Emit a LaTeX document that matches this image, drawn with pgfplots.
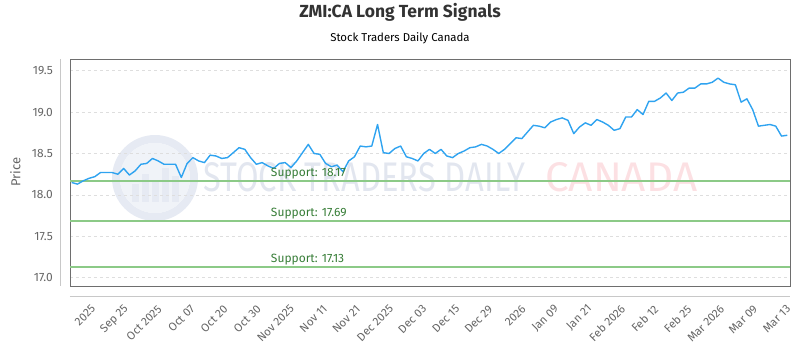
\documentclass[border=0pt]{standalone}
\usepackage{fontspec}
\setmainfont{Fira Sans}
\usepackage{graphicx}
\usepackage{pgfplots}
\pgfplotsset{compat=1.18}
\usepackage{pgfplotstable}

\definecolor{linec}{RGB}{47,163,240}
\definecolor{supc}{RGB}{140,202,135}
\definecolor{suptext}{RGB}{55,125,55}
\definecolor{gridc}{RGB}{222,222,222}
\definecolor{framec}{RGB}{110,110,110}
\definecolor{axisc}{RGB}{200,200,200}
\definecolor{tickc}{RGB}{102,102,102}
\definecolor{titlec}{RGB}{51,51,51}
\definecolor{wmblue}{RGB}{226,230,239}
\definecolor{wmring}{RGB}{230,234,243}
\definecolor{wmpink}{RGB}{252,224,227}

\pgfplotstableread{
i price
0 18.15
1 18.13
2 18.17
3 18.20
4 18.22
5 18.27
6 18.27
7 18.27
8 18.25
9 18.32
10 18.24
11 18.29
12 18.37
13 18.38
14 18.44
15 18.41
16 18.37
17 18.37
18 18.37
19 18.21
20 18.38
21 18.45
22 18.41
23 18.39
24 18.48
25 18.47
26 18.44
27 18.45
28 18.51
29 18.57
30 18.55
31 18.45
32 18.37
33 18.39
34 18.35
35 18.32
36 18.38
37 18.39
38 18.33
39 18.41
40 18.51
41 18.61
42 18.50
43 18.49
44 18.38
45 18.34
46 18.36
47 18.28
48 18.41
49 18.46
50 18.59
51 18.58
52 18.59
53 18.85
54 18.51
55 18.50
56 18.56
57 18.59
58 18.46
59 18.44
60 18.41
61 18.50
62 18.55
63 18.50
64 18.55
65 18.47
66 18.45
67 18.50
68 18.53
69 18.57
70 18.58
71 18.61
72 18.59
73 18.55
74 18.50
75 18.55
76 18.62
77 18.69
78 18.68
79 18.76
80 18.84
81 18.83
82 18.81
83 18.88
84 18.91
85 18.93
86 18.90
87 18.74
88 18.82
89 18.87
90 18.84
91 18.91
92 18.88
93 18.84
94 18.78
95 18.80
96 18.94
97 18.94
98 19.03
99 18.97
100 19.13
101 19.13
102 19.17
103 19.23
104 19.14
105 19.23
106 19.24
107 19.29
108 19.29
109 19.34
110 19.34
111 19.36
112 19.41
113 19.36
114 19.34
115 19.33
116 19.12
117 19.16
118 19.03
119 18.83
120 18.84
121 18.85
122 18.83
123 18.71
124 18.72
}\pricedata

\begin{document}
\begin{tikzpicture}
% watermark
\draw[wmring, line width=8pt] (85pt,108pt) circle (39pt);
\fill[wmring!60] (85pt,108pt) circle (35pt);
\foreach \bx/\bh in {62/18,72/28,82/22,92/34,102/26}{
  \fill[wmring] (\bx pt,84pt) rectangle ++(7pt,\bh pt);
}
\node[anchor=base west, inner sep=0pt, text=wmblue] at (133pt,94pt) {\resizebox{322pt}{29pt}{STOCK TRADERS DAILY}};
\node[anchor=base west, inner sep=0pt, text=wmpink] at (475pt,94pt) {\resizebox{152pt}{29pt}{CANADA}};

\begin{axis}[
  scale only axis,
  width=720pt, height=227pt,
  xmin=-0.29, xmax=124.47,
  ymin=16.9, ymax=19.641,
  axis line style={framec, line width=0.8pt},
  major tick length=0pt,
  ytick={17,17.5,18,18.5,19,19.5},
  yticklabel style={/pgf/number format/fixed, /pgf/number format/fixed zerofill,
    /pgf/number format/precision=1, font=\fontsize{12}{14}\selectfont, text=tickc,
    anchor=east, inner sep=0pt},
  /pgf/number format/assume math mode=true,
  yticklabel shift=17pt,
  ymajorgrids,
  major grid style={gridc, dash pattern=on 3pt off 3pt, line width=0.6pt},
  xtick={3.78,9.52,15.25,20.99,26.72,32.46,38.20,43.93,49.67,55.40,61.14,66.88,72.61,78.35,84.08,89.82,95.56,101.29,107.03,112.76,118.50,124.24},
  xticklabels={2025,Sep 25,Oct 2025,Oct 07,Oct 20,Oct 30,Nov 2025,Nov 11,Nov 21,Dec 2025,Dec 03,Dec 15,Dec 29,2026,Jan 09,Jan 21,Feb 2026,Feb 12,Feb 25,Mar 2026,Mar 09,Mar 13},
  xticklabel style={rotate=45, anchor=east, inner sep=0pt, font=\fontsize{11.5}{13}\selectfont, text=tickc},
  xticklabel shift=21pt,
]
\addplot[supc, line width=2pt] coordinates {(-0.29,18.17) (124.47,18.17)};
\addplot[supc, line width=2pt] coordinates {(-0.29,17.69) (124.47,17.69)};
\addplot[supc, line width=2pt] coordinates {(-0.29,17.13) (124.47,17.13)};
\addplot[linec, line width=1.4pt, line join=round] table[x=i, y=price] {\pricedata};
\node[anchor=base west, inner sep=0pt, text=suptext, font=\fontsize{12}{14}\selectfont] at (axis cs:34.5,18.17) [yshift=4.5pt] {Support: 18.17};
\node[anchor=base west, inner sep=0pt, text=suptext, font=\fontsize{12}{14}\selectfont] at (axis cs:34.5,17.69) [yshift=4.5pt] {Support: 17.69};
\node[anchor=base west, inner sep=0pt, text=suptext, font=\fontsize{12}{14}\selectfont] at (axis cs:34.5,17.13) [yshift=4.5pt] {Support: 17.13};
\end{axis}

% separate axis lines
\draw[axisc, line width=0.8pt] (-9.3pt,0pt) -- (-9.3pt,227pt);
\draw[axisc, line width=0.8pt] (0pt,-10.7pt) -- (720pt,-10.7pt);

% titles
\node[anchor=base, inner sep=0pt, text=titlec, font=\fontsize{17.5}{20}\selectfont\bfseries] at (330pt,268.7pt) {ZMI:CA Long Term Signals};
\node[anchor=base, inner sep=0pt, text=black, font=\fontsize{11.4}{14}\selectfont] at (330pt,244.3pt) {Stock Traders Daily Canada};
\node[rotate=90, inner sep=0pt, text=tickc, font=\fontsize{13}{15}\selectfont] at (-54.5pt,114pt) {Price};

\pgfresetboundingbox
\path (-70pt,-64pt) rectangle (730pt,286pt);
\end{tikzpicture}
\end{document}
